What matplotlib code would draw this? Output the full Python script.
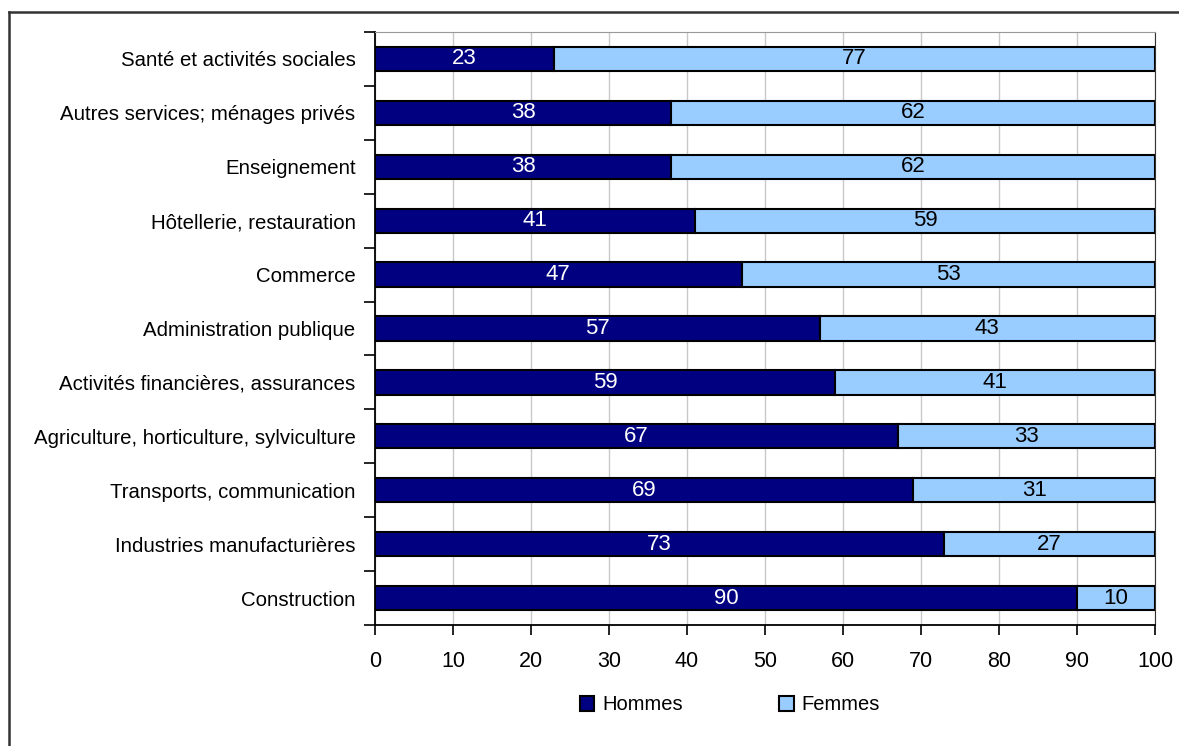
import numpy as np
import matplotlib.pyplot as plt
from matplotlib.lines import Line2D
from matplotlib.patches import Patch

plt.rcParams['font.family'] = ['Liberation Sans Narrow', 'Liberation Sans', 'DejaVu Sans']

sectors = [
    'Construction',
    'Industries manufacturières',
    'Transports, communication',
    'Agriculture, horticulture, sylviculture',
    'Activités financières, assurances',
    'Administration publique',
    'Commerce',
    'Hôtellerie, restauration',
    'Enseignement',
    'Autres services; ménages privés',
    'Santé et activités sociales',
]
hommes = [90, 73, 69, 67, 59, 57, 47, 41, 38, 38, 23]
femmes = [10, 27, 31, 33, 41, 43, 53, 59, 62, 62, 77]

navy = '#000080'
sky = '#99CCFF'

fig = plt.figure(figsize=(11.79, 7.46), dpi=100)
ax = fig.add_axes([375 / 1179, 1 - 625 / 746, 780 / 1179, 593 / 746])

y = np.arange(len(sectors))
bh = 0.45
b1 = ax.barh(y, hommes, height=bh, color=navy, edgecolor='black', linewidth=1.5, zorder=3)
b2 = ax.barh(y, femmes, left=hommes, height=bh, color=sky, edgecolor='black', linewidth=1.5, zorder=3)
ax.bar_label(b1, labels=[str(v) for v in hommes], label_type='center', color='white', fontsize=16)
ax.bar_label(b2, labels=[str(v) for v in femmes], label_type='center', color='black', fontsize=16)

ax.set_xlim(0, 100)
ax.set_ylim(-0.5, len(sectors) - 0.5)
ax.set_xticks(np.arange(0, 101, 10))
ax.tick_params(axis='x', labelsize=15.5, length=7, width=1.2, pad=12, direction='out')

# category names as minor labels, tick marks on the boundaries
ax.set_yticks(np.arange(-0.5, len(sectors), 1))
ax.set_yticklabels([])
ax.set_yticks(y, minor=True)
ax.set_yticklabels(sectors, minor=True, fontsize=14.7)
ax.tick_params(axis='y', which='major', length=8, width=1.2, direction='out')
ax.tick_params(axis='y', which='minor', length=0, pad=14)

ax.grid(axis='x', color='#c8c8c8', linewidth=1, zorder=0)
ax.set_axisbelow(True)
for side in ['left', 'bottom']:
    ax.spines[side].set_color('black')
    ax.spines[side].set_linewidth(1.3)
ax.spines['top'].set_color('#999999')
ax.spines['right'].set_color('#333333')

handles = [Patch(facecolor=navy, edgecolor='black', linewidth=1.5),
           Patch(facecolor=sky, edgecolor='black', linewidth=1.5)]
fig.legend(handles, ['Hommes', 'Femmes'], loc='center', bbox_to_anchor=(730 / 1179, 1 - 705 / 746),
           ncol=2, frameon=False, fontsize=14.5, handlelength=0.7, handleheight=0.7,
           handletextpad=0.4, columnspacing=4.8)

# outer frame (left and top edges)
fig.add_artist(Line2D([9 / 1179, 9 / 1179], [0, 1 - 12 / 746], color='#333333', linewidth=1.8))
fig.add_artist(Line2D([9 / 1179, 1], [1 - 12 / 746, 1 - 12 / 746], color='#333333', linewidth=1.8))

fig.savefig('out.png', dpi=100)
